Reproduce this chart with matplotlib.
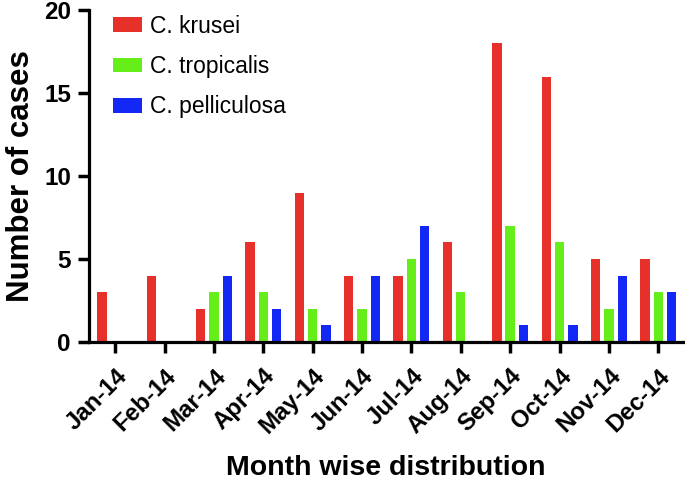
import numpy as np
import matplotlib
matplotlib.use("Agg")
import matplotlib.pyplot as plt

months = ["Jan-14", "Feb-14", "Mar-14", "Apr-14", "May-14", "Jun-14",
          "Jul-14", "Aug-14", "Sep-14", "Oct-14", "Nov-14", "Dec-14"]
krusei = [3, 4, 2, 6, 9, 4, 4, 6, 18, 16, 5, 5]
tropicalis = [0, 0, 3, 3, 2, 2, 5, 3, 7, 6, 2, 3]
pelliculosa = [0, 0, 4, 2, 1, 4, 7, 0, 1, 1, 4, 3]

series = [
    ("C. krusei", krusei, "#E8302A"),
    ("C. tropicalis", tropicalis, "#66EE1A"),
    ("C. pelliculosa", pelliculosa, "#1428F5"),
]

plt.rcParams['font.family'] = ['Liberation Sans', 'DejaVu Sans']

fig = plt.figure(figsize=(6.85, 4.83), dpi=100)
ax = fig.add_axes([0.130, 0.292, 0.867, 0.687])

x = np.arange(len(months))
width = 0.19
step = 0.27
for i, (name, vals, color) in enumerate(series):
    ax.bar(x + (i - 1) * step, vals, width=width, color=color, label=name)

ax.set_xlim(-0.53, 11.5)
ax.set_ylim(0, 20)
ax.set_yticks([0, 5, 10, 15, 20])
ax.set_xticks(x)
ax.set_xticklabels(months, rotation=45, ha="right", rotation_mode="anchor",
                   fontsize=17.3, fontweight="bold")
for lbl in ax.get_yticklabels():
    lbl.set_fontsize(17.5)
    lbl.set_fontweight("bold")

for side in ["top", "right"]:
    ax.spines[side].set_visible(False)
for side in ["left", "bottom"]:
    ax.spines[side].set_linewidth(2.3)
ax.tick_params(axis="both", width=2.5, length=8)
ax.tick_params(axis="x", pad=8)
ax.tick_params(axis="y", pad=5)

ax.set_ylabel("Number of cases", fontsize=22.5, fontweight="bold", labelpad=6)
ax.set_xlabel("Month wise distribution", fontsize=20.5, fontweight="bold", labelpad=12)

ax.legend(loc="upper left", bbox_to_anchor=(0.005, 1.048), frameon=False,
          fontsize=16.5, handlelength=1.3, handleheight=0.62,
          handletextpad=0.35, labelspacing=0.75)

fig.savefig("out.png", dpi=100)
